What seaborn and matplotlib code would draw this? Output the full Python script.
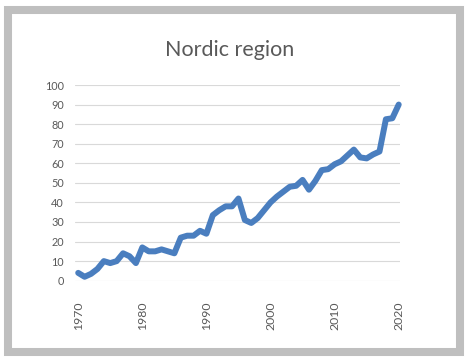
import matplotlib
matplotlib.use("Agg")
import matplotlib.pyplot as plt
import seaborn as sns
import pandas as pd
from matplotlib.patches import Rectangle

# values
years = list(range(1970, 2021))
values = [4, 2, 3.5, 6, 10, 9, 10, 14, 12.5, 9,
          17, 15, 15, 16, 15, 14, 22, 23, 23, 25.5,
          24, 33.5, 36, 38, 38, 42, 31, 29.5, 32, 36,
          40, 43, 45.5, 48, 48.5, 51.5, 46.5, 51, 56.5, 57,
          59.5, 61, 64, 67, 63, 62.5, 64.5, 66, 82.5, 83,
          90]
y_ticks = list(range(0, 101, 10))
x_ticks = [1970, 1980, 1990, 2000, 2010, 2020]
title = "Nordic region"

df = pd.DataFrame({"year": years, "value": values})

sns.set_theme(style="white")
plt.rcParams['font.family'] = ['Lato', 'DejaVu Sans']

fig = plt.figure(figsize=(4.71, 3.61), dpi=100)
ax = fig.add_axes([75 / 471, 1 - 280.7 / 361, 325 / 471, (280.7 - 85) / 361])

sns.lineplot(data=df, x="year", y="value", ax=ax, color="#4A7EBF",
             linewidth=4.3, solid_joinstyle="round", solid_capstyle="round",
             clip_on=False, zorder=3)

ax.set_xlim(1969.5, 2020.2)
ax.set_ylim(0, 100)
ax.set_yticks(y_ticks)
ax.set_xticks(x_ticks)
ax.set_xticklabels([str(t) for t in x_ticks], rotation=90)
ax.grid(axis="y", color="#D9D9D9", linewidth=0.8)
ax.grid(axis="x", visible=False)
for s in ax.spines.values():
    s.set_visible(False)
ax.tick_params(axis="y", length=0, pad=8, labelsize=7.8, labelcolor="#595959")
ax.tick_params(axis="x", length=0, pad=15, labelsize=8.8, labelcolor="#595959")
ax.set_xlabel("")
ax.set_ylabel("")

fig.text(230 / 471, 1 - 50 / 361, title, ha="center", va="center",
         fontsize=15.5, color="#595959")

# grey frame round the chart
fig.patches.append(Rectangle((8 / 471, 1 - 352 / 361), 452 / 471, 342 / 361,
                             transform=fig.transFigure, fill=False,
                             edgecolor="#BFBFBF", linewidth=5.8))

fig.savefig("out.png", dpi=100)
